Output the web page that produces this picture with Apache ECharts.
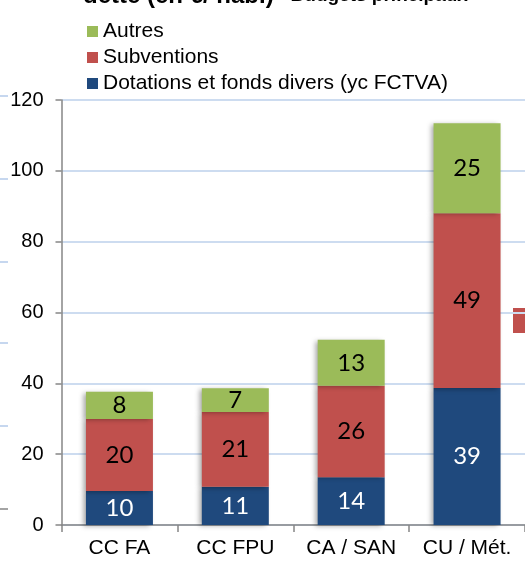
<!DOCTYPE html>
<html>
<head>
<meta charset="utf-8">
<script src="https://cdn.jsdelivr.net/npm/echarts@6/dist/echarts.min.js"></script>
<style>
html,body{margin:0;padding:0;background:#fff;}
#chart{width:525px;height:561px;}
</style>
</head>
<body>
<div id="chart"></div>
<script>
const categories = ['CC FA', 'CC FPU', 'CA / SAN', 'CU / Mét.'];
const dotations = [9.6, 10.8, 13.5, 38.7];
const subventions = [20.3, 21.1, 25.8, 49.3];
const autres = [7.7, 6.7, 13.0, 25.4];
const seriesNames = ['Dotations et fonds divers (yc FCTVA)', 'Subventions', 'Autres'];
const yTicks = [0, 20, 40, 60, 80, 100, 120];

const colors = ['#1f497d', '#c0504d', '#9bbb59'];
const labelColors = ['#ffffff', '#000000', '#000000'];
const font = '"Liberation Sans", Arial, sans-serif';

const chart = echarts.init(document.getElementById('chart'), null, {renderer: 'canvas'});

function mkSeries(name, data, i) {
  return {
    name: name,
    type: 'bar',
    stack: 'total',
    data: data,
    barWidth: 67,
    itemStyle: {
      color: colors[i],
      shadowColor: 'rgba(0,0,0,0.35)',
      shadowBlur: 5,
      shadowOffsetX: -3,
      shadowOffsetY: 1
    },
    label: {
      show: true,
      position: 'inside',
      color: labelColors[i],
      fontFamily: 'Lato, "Noto Sans", sans-serif',
      fontSize: 24,
      formatter: p => Math.round(p.value)
    },
    emphasis: {disabled: true}
  };
}

const option = {
  animation: false,
  backgroundColor: '#ffffff',
  grid: {left: 61.5, right: -7.5, top: 100, bottom: 36, containLabel: false},
  legend: {
    orient: 'vertical',
    left: 87,
    top: 21,
    padding: 0,
    itemWidth: 11,
    itemHeight: 11,
    itemGap: 5,
    icon: 'rect',
    data: [seriesNames[2], seriesNames[1], seriesNames[0]],
    textStyle: {fontFamily: font, fontSize: 21, lineHeight: 21, color: '#000'}
  },
  xAxis: {
    type: 'category',
    data: categories,
    axisLine: {lineStyle: {color: '#868686', width: 1.5}},
    axisTick: {show: true, length: 7, lineStyle: {color: '#868686', width: 1.5}},
    axisLabel: {interval: 0, fontFamily: font, fontSize: 21, color: '#000', margin: 13}
  },
  yAxis: {
    type: 'value',
    min: yTicks[0],
    max: yTicks[yTicks.length - 1],
    interval: 20,
    axisLine: {show: true, lineStyle: {color: '#868686', width: 1.5}},
    axisTick: {show: true, length: 6, lineStyle: {color: '#868686', width: 1.5}},
    axisLabel: {fontFamily: font, fontSize: 20, color: '#000', margin: 18},
    splitLine: {lineStyle: {color: '#cddcf0', width: 2}}
  },
  series: [
    mkSeries(seriesNames[0], dotations, 0),
    mkSeries(seriesNames[1], subventions, 1),
    mkSeries(seriesNames[2], autres, 2)
  ],
  graphic: [
    {
      type: 'text', left: 83, top: -16, silent: true,
      style: {
        text: '{a|dette (en €/ hab.)}{b| - Budgets principaux}',
        rich: {
          a: {fontFamily: font, fontWeight: 'bold', fontSize: 24, fill: '#000'},
          b: {fontFamily: font, fontWeight: 'bold', fontSize: 19, fill: '#000'}
        }
      }
    },
    {type: 'rect', shape: {x: 513, y: 308, width: 12, height: 25}, style: {fill: '#c0504d'}, silent: true},
    {type: 'line', shape: {x1: 0, y1: 96, x2: 8, y2: 96}, style: {stroke: '#c6d7ef', lineWidth: 2}, silent: true},
    {type: 'line', shape: {x1: 0, y1: 179, x2: 8, y2: 179}, style: {stroke: '#c6d7ef', lineWidth: 2}, silent: true},
    {type: 'line', shape: {x1: 0, y1: 262, x2: 8, y2: 262}, style: {stroke: '#c6d7ef', lineWidth: 2}, silent: true},
    {type: 'line', shape: {x1: 0, y1: 343, x2: 8, y2: 343}, style: {stroke: '#c6d7ef', lineWidth: 2}, silent: true},
    {type: 'line', shape: {x1: 0, y1: 426, x2: 8, y2: 426}, style: {stroke: '#c6d7ef', lineWidth: 2}, silent: true},
    {type: 'line', shape: {x1: 0, y1: 509, x2: 8, y2: 509}, style: {stroke: '#868686', lineWidth: 1.5}, silent: true}
  ]
};

chart.setOption(option);
</script>
</body>
</html>
